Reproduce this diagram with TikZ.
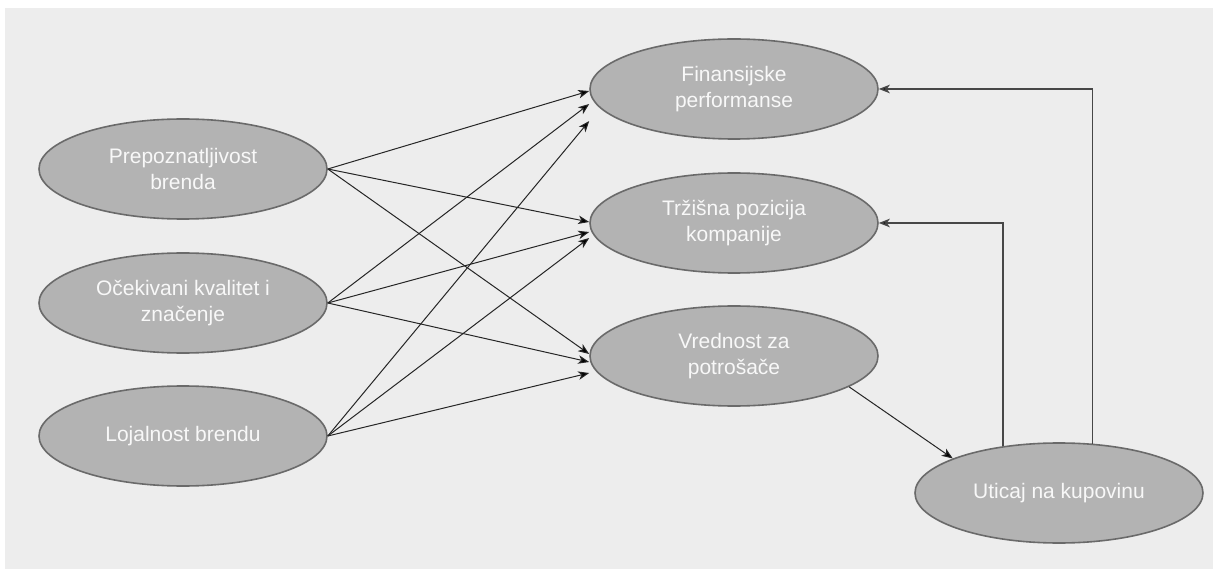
\documentclass[tikz,border=0pt]{standalone}
\usepackage{fontspec}
\setmainfont{Liberation Sans}
\usetikzlibrary{shapes.geometric,arrows.meta,calc}
\definecolor{bgc}{HTML}{EDEDED}
\definecolor{ellfill}{HTML}{B3B3B3}
\definecolor{elldraw}{HTML}{6A6A6A}
\definecolor{txtc}{HTML}{F8F8F8}
\definecolor{linec}{HTML}{262626}
\tikzset{
  oval/.style={ellipse, draw=elldraw, fill=ellfill, line width=1.6pt,
    minimum width=288pt, minimum height=100pt, inner sep=0pt,
    text=txtc, align=center, font=\fontsize{21}{26}\selectfont},
  arr/.style={draw=linec, line width=1pt, -{Stealth[length=11pt,width=8.5pt,inset=3pt,fill=black]}},
  arrr/.style={draw=linec!85!white, line width=1.5pt, -{Stealth[length=11pt,width=8.5pt,inset=3pt,fill=black]}}
}
\begin{document}
\begin{tikzpicture}[x=1pt,y=-1pt]
\useasboundingbox (0,0) rectangle (1213,569);
\fill[bgc] (5,8) rectangle (1213,569);

\node[oval] (prep) at (183,169) {Prepoznatljivost\\brenda};
\node[oval] (ocek) at (183,303) {Očekivani kvalitet i\\značenje};
\node[oval] (loj)  at (183,436) {Lojalnost brendu};

\node[oval] (fin)  at (734,89)  {Finansijske\\performanse};
\node[oval] (trz)  at (734,223) {Tržišna pozicija\\kompanije};
\node[oval] (vred) at (734,356) {Vrednost za\\potrošače};

\node[oval] (uti)  at (1059,493) {Uticaj na kupovinu};

% to Finansijske performanse
\draw[arr] (prep.east) -- ($(fin.west)+(0,2)$);
\draw[arr] (ocek.east) -- ($(fin.west)+(0,15)$);
\draw[arr] (loj.east)  -- ($(fin.west)+(0,32)$);
% to Trzisna pozicija
\draw[arr] (prep.east) -- ($(trz.west)+(0,-1)$);
\draw[arr] (ocek.east) -- ($(trz.west)+(0,9)$);
\draw[arr] (loj.east)  -- ($(trz.west)+(0,15)$);
% to Vrednost
\draw[arr] (prep.east) -- ($(vred.west)+(0,-2)$);
\draw[arr] (ocek.east) -- ($(vred.west)+(0,6)$);
\draw[arr] (loj.east)  -- ($(vred.west)+(0,17)$);

% Vrednost -> Uticaj
\draw[arr] (vred.-15.4) -- (uti.162.4);

% Uticaj -> top right
\draw[arrr] (uti.56) |- (fin.east);
\draw[arrr] (uti.140) |- (trz.east);
\end{tikzpicture}
\end{document}
